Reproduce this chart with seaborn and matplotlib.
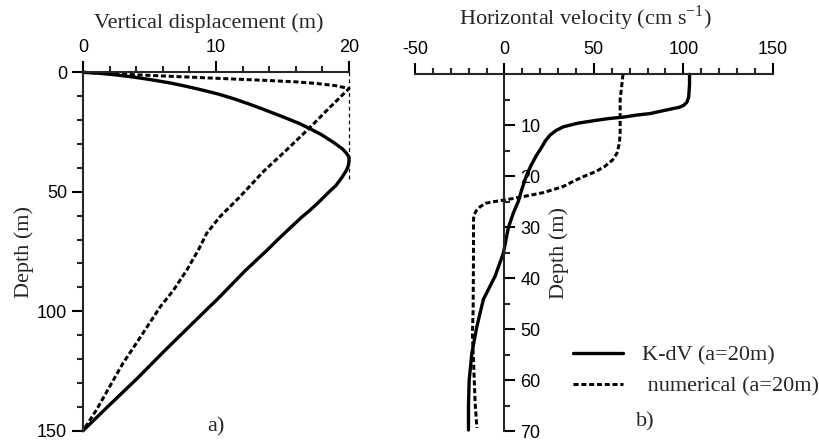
import numpy as np
import pandas as pd
import matplotlib
matplotlib.use("Agg")
import matplotlib.pyplot as plt
from matplotlib.ticker import MultipleLocator, FixedLocator
from matplotlib.lines import Line2D
import seaborn as sns

# ---------------- data ----------------
# Panel a: vertical displacement (m) vs depth (m)
depth_a_kdv = [0, 0.4, 1.1, 2.0, 3.0, 4.5, 5.8, 7.2, 9, 11, 13.5, 16, 18.8, 21.5, 24, 26,
               27.8, 29.2, 30.8, 32, 33.8, 35.5, 37.3, 39, 40.5, 42, 43.7, 45.3, 47.5, 49.5,
               52, 55, 57.8, 60.6, 65, 70, 74.4, 83, 95, 98.2, 105, 117, 128, 140, 150]
disp_a_kdv = [0, 1.2, 2.5, 3.8, 5.0, 6.6, 7.7, 8.8, 10.1, 11.3, 12.6, 13.8, 15.1, 16.3, 17.2, 17.9,
              18.4, 18.8, 19.2, 19.5, 19.8, 20.0, 20.0, 19.95, 19.85, 19.7, 19.5, 19.3, 19.0, 18.6,
              18.15, 17.6, 17.05, 16.45, 15.6, 14.65, 13.85, 12.2, 10.1, 9.5, 8.25, 6.05, 4.1, 1.85, 0]

depth_a_num = [0, 0.8, 1.6, 2.5, 3.4, 4.0, 4.7, 5.6, 6.8, 15, 22.9, 32, 41.6, 52.1, 60.4,
               67.4, 74.4, 82.8, 91.2, 98.2, 105, 113.5, 121.8, 131.6, 141.4, 150]
disp_a_num = [0, 3, 6.3, 10, 13.8, 16, 17.6, 19, 20, 18.5, 17.1, 15.4, 13.55, 11.8, 10.3,
              9.3, 8.67, 7.8, 6.8, 5.8, 5.0, 4.0, 3.0, 2.0, 1.0, 0]

ref_x = [20, 20]
ref_depth = [0, 45]

# Panel b: horizontal velocity (cm/s) vs depth (m)
depth_b_kdv = [0, 2, 4.5, 5.5, 6.1, 6.5, 6.7, 7.2, 7.7, 8.0, 8.4, 8.7, 9.1, 9.6, 10.3, 11,
               11.9, 13, 14.5, 15.8, 17.8, 19.7, 22.6, 24.9, 27.2, 30.1, 35.1, 39.6, 44.2,
               49.5, 54.7, 60, 65, 69.8]
vel_b_kdv = [103.5, 103.5, 103, 102, 100.2, 97.5, 94.6, 88, 81.5, 74, 66.6, 58, 50, 41, 33, 29,
             25.6, 23, 20.5, 18.1, 15, 12.5, 9.7, 7.8, 5.0, 2.2, -0.6, -5.2, -11.8,
             -15.4, -18.2, -19.7, -20.1, -20.1]

depth_b_num = [0, 5, 11.5, 13.5, 15.5, 16.8, 18.1, 19.1, 20.1, 21, 22, 23.2, 23.9, 24.6, 25,
               25.3, 26, 26.8, 27.6, 28.5, 35.8, 46.3, 51, 56, 64.4, 69.4]
vel_b_num = [66.3, 64.7, 64.7, 64.3, 62.9, 60.5, 56, 51, 44, 38.5, 33, 22, 12, 1.3, -6,
             -10.5, -13.6, -15.8, -17.0, -17.3, -17.3, -17.5, -17.9, -17.3, -16.4, -15.4]

title_a = "Vertical displacement (m)"
title_b = "Horizontal velocity (cm s$^{\\mathdefault{-1}}$)"
ylabel = "Depth (m)"
label_kdv = "K-dV (a=20m)"
label_num = " numerical (a=20m)"
xticks_a = [0, 10, 20]
yticks_a = [0, 50, 100, 150]
xticks_b = [-50, 0, 50, 100, 150]
yticks_b = [10, 20, 30, 40, 50, 60, 70]

# ---------------- style ----------------
sns.set_style("ticks")
plt.rcParams["font.family"] = ["Liberation Sans", "DejaVu Sans"]
plt.rcParams["axes.unicode_minus"] = False
SERIF = ["Liberation Serif", "DejaVu Serif"]
W, H = 819, 444
fig = plt.figure(figsize=(W / 100, H / 100), dpi=100)

LW = 2.4
DASH = (0, (1.7, 0.9))
SPW = 1.5

axA = fig.add_axes([83 / W, 1 - 430.7 / H, 266 / W, 358.4 / H])
axB = fig.add_axes([415 / W, 1 - 431 / H, 357.7 / W, 356.7 / H])

dfa1 = pd.DataFrame({"x": disp_a_kdv, "d": depth_a_kdv})
dfa2 = pd.DataFrame({"x": disp_a_num, "d": depth_a_num})
dfar = pd.DataFrame({"x": ref_x, "d": ref_depth})
sns.lineplot(data=dfa1, x="x", y="d", sort=False, estimator=None, orient="y", color="black",
             lw=LW, ax=axA, legend=False, clip_on=False)
sns.lineplot(data=dfa2, x="x", y="d", sort=False, estimator=None, orient="y", color="black",
             lw=LW * 0.9, linestyle=DASH, ax=axA, legend=False, clip_on=False)
sns.lineplot(data=dfar, x="x", y="d", sort=False, estimator=None, orient="y", color="black",
             lw=0.9, linestyle=(0, (3, 2.5)), ax=axA, legend=False, clip_on=False)

dfb1 = pd.DataFrame({"x": vel_b_kdv, "d": depth_b_kdv})
dfb2 = pd.DataFrame({"x": vel_b_num, "d": depth_b_num})
sns.lineplot(data=dfb1, x="x", y="d", sort=False, estimator=None, orient="y", color="black",
             lw=LW, ax=axB, legend=False, clip_on=False)
sns.lineplot(data=dfb2, x="x", y="d", sort=False, estimator=None, orient="y", color="black",
             lw=LW * 0.9, linestyle=DASH, ax=axB, legend=False, clip_on=False)

# ---- panel a axes ----
axA.set_xlim(0, 20)
axA.set_ylim(150, 0)
axA.xaxis.tick_top()
for s in ["bottom", "right"]:
    axA.spines[s].set_visible(False)
for s in ["top", "left"]:
    axA.spines[s].set_linewidth(SPW)
axA.set_xticks(xticks_a)
axA.set_yticks(yticks_a)
axA.xaxis.set_minor_locator(MultipleLocator(2))
axA.yaxis.set_minor_locator(MultipleLocator(10))
axA.tick_params(which="major", length=8, width=SPW, direction="out", pad=3.5, labelsize=13, colors="black")
axA.tick_params(which="minor", length=4, width=SPW, direction="out")
axA.set_xlabel("")
axA.set_ylabel(ylabel, family=SERIF, fontsize=16, labelpad=2)
axA.text(0.472, 1.1236, title_a, transform=axA.transAxes, ha="center", va="baseline",
         family=SERIF, fontsize=16)
axA.text(0.5, 0.011, "a)", transform=axA.transAxes, ha="center", va="center",
         family=SERIF, fontsize=16)

# ---- panel b axes ----
axB.set_xlim(-50, 150)
axB.set_ylim(70, 0)
axB.xaxis.tick_top()
for s in ["bottom", "left"]:
    axB.spines[s].set_visible(False)
axB.spines["right"].set_position(("data", 0))
for s in ["top", "right"]:
    axB.spines[s].set_linewidth(SPW)
axB.yaxis.set_ticks_position("right")
axB.yaxis.set_label_position("right")
axB.set_xticks(xticks_b)
axB.set_yticks(yticks_b)
axB.xaxis.set_minor_locator(MultipleLocator(10))
axB.yaxis.set_minor_locator(FixedLocator(np.arange(5, 70, 10)))
axB.tick_params(which="major", length=8, width=SPW, direction="out", pad=3.5, labelsize=13, colors="black")
axB.tick_params(which="minor", length=4, width=SPW, direction="out")
axB.set_xlabel("")
axB.set_ylabel(ylabel, family=SERIF, fontsize=16, labelpad=6)
axB.text(0.4753, 1.1396, title_b, transform=axB.transAxes, ha="center", va="baseline",
         family=SERIF, fontsize=16)
axB.text(0.643, 0.025, "b)", transform=axB.transAxes, ha="center", va="center",
         family=SERIF, fontsize=16)

handles = [Line2D([], [], color="black", lw=LW),
           Line2D([], [], color="black", lw=LW * 0.9, linestyle=DASH)]
axB.legend(handles, [label_kdv, label_num], loc="upper left",
           bbox_to_anchor=(573 / W, 1 - 345 / H), bbox_transform=fig.transFigure,
           frameon=False, borderpad=0, borderaxespad=0, handlelength=2.25,
           handletextpad=0.85, labelspacing=0.47, prop={"family": SERIF, "size": 16})

fig.savefig("out.png", dpi=100)
